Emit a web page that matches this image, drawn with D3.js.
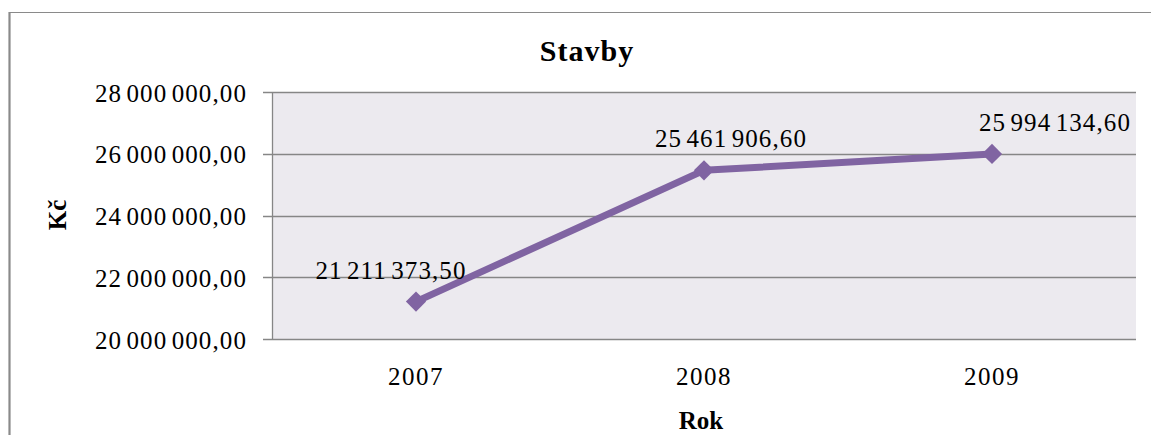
<!DOCTYPE html>
<html>
<head>
<meta charset="utf-8">
<script src="https://cdn.jsdelivr.net/npm/d3@7"></script>
<style>
html,body{margin:0;padding:0;background:#fff;}
svg{display:block;}
text{font-family:"Liberation Serif","Times New Roman",serif;fill:#000;}
</style>
</head>
<body>
<svg id="chart" width="1151" height="435"></svg>
<script>
const years = ["2007", "2008", "2009"];
const values = [21211373.50, 25461906.60, 25994134.60];
const yTicks = [20000000, 22000000, 24000000, 26000000, 28000000];
const labelOffsets = [-25, 27, 63];
const chartTitle = "Stavby";
const xTitle = "Rok";
const yTitle = "Kč";

const svg = d3.select("#chart");
const W = 1151, H = 435;
const plot = {left: 272, right: 1136, top: 92, bottom: 339};

const fmtBase = d3.format(",.2f");
const fmt = v => fmtBase(v).replace(/,/g, " ").replace(".", ",");

// outer chart border
svg.append("line").attr("x1", 9).attr("x2", W).attr("y1", 12.5).attr("y2", 12.5)
  .attr("stroke", "#8a8a8a").attr("stroke-width", 1.2);
svg.append("line").attr("x1", 9.5).attr("x2", 9.5).attr("y1", 12).attr("y2", H)
  .attr("stroke", "#8a8a8a").attr("stroke-width", 2.2);

const x = d3.scaleBand().domain(years).range([plot.left, plot.right]);
const y = d3.scaleLinear().domain([20000000, 28000000]).range([plot.bottom, plot.top]);

// plot area
svg.append("rect").attr("x", plot.left).attr("y", plot.top)
  .attr("width", plot.right - plot.left).attr("height", plot.bottom - plot.top)
  .attr("fill", "#ECEAEF");

// gridlines
svg.append("g").selectAll("line").data(yTicks).join("line")
  .attr("x1", plot.left - 9).attr("x2", plot.right)
  .attr("y1", d => Math.round(y(d)) + 0.5).attr("y2", d => Math.round(y(d)) + 0.5)
  .attr("stroke", "#868686").attr("stroke-width", 1.3);

// y axis line
svg.append("line").attr("x1", plot.left + 0.5).attr("x2", plot.left + 0.5)
  .attr("y1", plot.top).attr("y2", plot.bottom + 1)
  .attr("stroke", "#868686").attr("stroke-width", 1.3);

const serif = "'Liberation Serif', 'Times New Roman', serif";

// y axis labels via axis
const yAxis = d3.axisLeft(y).tickValues(yTicks).tickFormat(fmt).tickSize(0).tickPadding(25);
const gy = svg.append("g").attr("transform", `translate(${plot.left},0)`).call(yAxis);
gy.attr("font-family", null).attr("font-size", null);
gy.select(".domain").remove();
gy.selectAll("text").style("font-size", "25px").style("font-family", serif)
  .style("letter-spacing", "1.1px").style("word-spacing", "-3px")
  .attr("fill", "#000").attr("dy", "0.36em");

// x axis labels
const xAxis = d3.axisBottom(x).tickSize(0).tickPadding(0);
const gx = svg.append("g").attr("transform", `translate(0,${plot.bottom})`).call(xAxis);
gx.attr("font-family", null).attr("font-size", null);
gx.select(".domain").remove();
gx.selectAll("text").style("font-size", "25px").style("font-family", serif)
  .style("letter-spacing", "1.5px")
  .attr("fill", "#000").attr("y", 46).attr("dy", 0);

// line
const cx = d => x(d) + x.bandwidth() / 2;
const data = years.map((yr, i) => ({yr, v: values[i], off: labelOffsets[i]}));
svg.append("path").datum(data)
  .attr("d", d3.line().x(d => cx(d.yr)).y(d => y(d.v)))
  .attr("fill", "none").attr("stroke", "#8064A2").attr("stroke-width", 7)
  .attr("stroke-linejoin", "round");

// markers
svg.append("g").selectAll("path").data(data).join("path")
  .attr("transform", d => `translate(${cx(d.yr)},${y(d.v)})`)
  .attr("d", d3.symbol().type(d3.symbolDiamond2).size(260)())
  .attr("fill", "#8064A2");

// data labels
svg.append("g").selectAll("text").data(data).join("text")
  .attr("x", d => cx(d.yr) + d.off).attr("y", d => y(d.v) - 23)
  .attr("text-anchor", "middle").style("font-size", "25px").style("font-family", serif)
  .style("letter-spacing", "1.1px").style("word-spacing", "-3px")
  .text(d => fmt(d.v));

// title
svg.append("text").attr("x", 587).attr("y", 61).attr("text-anchor", "middle")
  .style("font-size", "30px").style("font-weight", "bold").style("letter-spacing", "1px")
  .style("font-family", serif)
  .text(chartTitle);

// axis titles
svg.append("text").attr("x", 701).attr("y", 429).attr("text-anchor", "middle")
  .style("font-size", "25px").style("font-weight", "bold").style("font-family", serif).text(xTitle);
svg.append("text").attr("transform", "translate(66,215) rotate(-90)")
  .attr("text-anchor", "middle")
  .style("font-size", "25px").style("font-weight", "bold").style("font-family", serif).text(yTitle);
</script>
</body>
</html>
